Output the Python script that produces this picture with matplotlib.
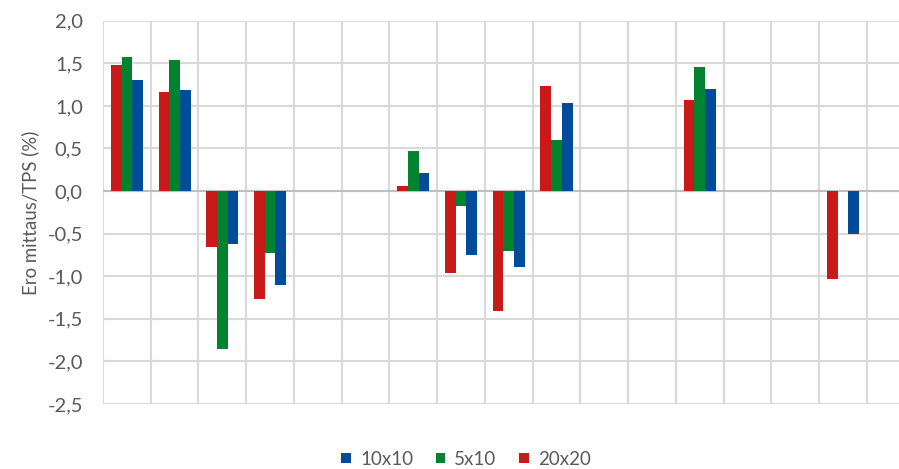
import numpy as np
import matplotlib
matplotlib.use("Agg")
import matplotlib.pyplot as plt
from matplotlib.ticker import MultipleLocator, FuncFormatter

nan = np.nan
categories = list(range(17))
s_20x20 = [1.475, 1.158, -0.654, -1.27, nan, nan, 0.06, -0.966, -1.41, 1.236, nan, nan, 1.07, nan, nan, -1.036, nan]
s_5x10 = [1.576, 1.534, -1.858, -0.73, nan, nan, 0.466, -0.176, -0.704, 0.602, nan, nan, 1.459, nan, nan, nan, nan]
s_10x10 = [1.30, 1.19, -0.622, -1.107, nan, nan, 0.21, -0.748, -0.896, 1.036, nan, nan, 1.20, nan, nan, -0.505, nan]

plt.rcParams['font.family'] = ['Lato', 'DejaVu Sans']

W, H = 899, 469
fig = plt.figure(figsize=(W / 100, H / 100), dpi=100)
left_px, right_px, top_px, bot_px = 103, 103 + 17 * 47.74, 20.7, 404
ax = fig.add_axes([left_px / W, (H - bot_px) / H, (right_px - left_px) / W, (bot_px - top_px) / H])

red = '#C91A1A'
green = '#00822F'
blue = '#004C99'
x = np.arange(len(categories))
bw = 0.224
ax.bar(x - bw, s_20x20, bw, color=red, label='20x20', zorder=3)
ax.bar(x, s_5x10, bw, color=green, label='5x10', zorder=3)
ax.bar(x + bw, s_10x10, bw, color=blue, label='10x10', zorder=3)

ax.set_xlim(-0.5, len(categories) - 0.5)
ax.set_ylim(-2.5, 2.0)
ax.yaxis.set_major_locator(MultipleLocator(0.5))
ax.yaxis.set_major_formatter(FuncFormatter(lambda v, p: f"{v:.1f}".replace('.', ',')))
ax.set_xticks(np.arange(len(categories) + 1) - 0.5)
ax.set_xticklabels([])
ax.tick_params(axis='both', length=0)
ax.tick_params(axis='y', labelsize=14.5, labelcolor='#595959', pad=14.5)
ax.grid(True, color='#D9D9D9', linewidth=1.5, zorder=0)
for s in ax.spines.values():
    s.set_visible(False)
ax.axhline(0, color='#BFBFBF', linewidth=1.5, zorder=2)
ax.set_ylabel('Ero mittaus/TPS (%)', fontsize=13.4, color='#595959', labelpad=6)

handles, labels = ax.get_legend_handles_labels()
order = [2, 1, 0]
fig.legend([handles[i] for i in order], [labels[i] for i in order],
           loc='center', bbox_to_anchor=(466 / W, (H - 459) / H), ncol=3, frameon=False,
           fontsize=13.5, labelcolor='#595959', handlelength=0.5, handleheight=0.5,
           handletextpad=0.5, columnspacing=1.2)

fig.savefig('out.png', dpi=100)
